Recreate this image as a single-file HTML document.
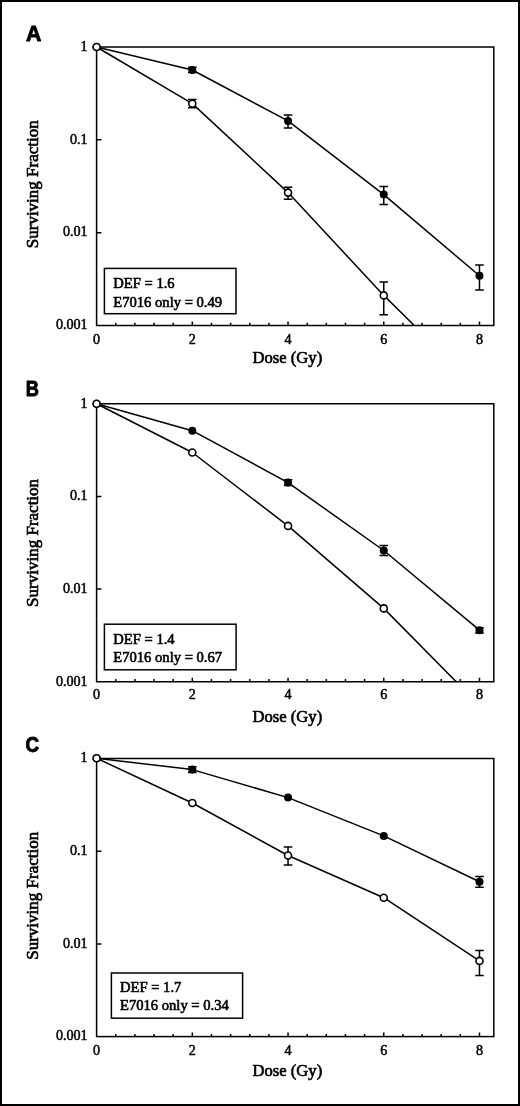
<!DOCTYPE html><html><head><meta charset="utf-8"><style>
html,body{margin:0;padding:0;background:#fff;}
body{width:520px;height:1106px;overflow:hidden;}
svg{display:block;will-change:transform;}
text{font-family:"Liberation Serif",serif;fill:#000;}
.lab{stroke:#000;stroke-width:0.65px;}
.pl{font-family:"Liberation Sans",sans-serif;font-weight:bold;stroke:#000;stroke-width:0.9px;stroke-linejoin:round;}
.tk{stroke:#000;stroke-width:0.6px;}
.tl{stroke:#000;stroke-width:0.5px;}
</style></head><body>
<svg width="520" height="1106" viewBox="0 0 520 1106">
<rect x="0" y="0" width="520" height="1106" fill="#fff"/>
<rect x="1" y="1" width="518" height="1104" fill="none" stroke="#000" stroke-width="2"/>
<g>
<text class="pl" transform="translate(26 41) scale(1.0 1)" x="0" y="0" font-size="21.2">A</text>
<rect x="96.6" y="47" width="397.2" height="278.5" fill="none" stroke="#000" stroke-width="1.5"/>
<path d="M96.6 139.83H101.4M96.6 232.67H101.4M115.74 325.5V322.8M134.89 325.5V322.8M154.03 325.5V322.8M173.18 325.5V322.8M192.32 325.5V321.5M211.46 325.5V322.8M230.61 325.5V322.8M249.75 325.5V322.8M268.9 325.5V322.8M288.04 325.5V321.5M307.18 325.5V322.8M326.33 325.5V322.8M345.47 325.5V322.8M364.62 325.5V322.8M383.76 325.5V321.5M402.9 325.5V322.8M422.05 325.5V322.8M441.19 325.5V322.8M460.34 325.5V322.8M479.48 325.5V321.5" stroke="#000" stroke-width="1.5" fill="none"/>
<text x="87.6" y="50.8" font-size="14.1" class="tl" text-anchor="end">1</text>
<text x="87.6" y="143.63" font-size="14.1" class="tl" text-anchor="end">0.1</text>
<text x="87.6" y="236.47" font-size="14.1" class="tl" text-anchor="end">0.01</text>
<text x="87.6" y="329.3" font-size="14.1" class="tl" text-anchor="end">0.001</text>
<text x="96.6" y="343.8" font-size="14.1" class="tl" text-anchor="middle">0</text>
<text x="192.32" y="343.8" font-size="14.1" class="tl" text-anchor="middle">2</text>
<text x="288.04" y="343.8" font-size="14.1" class="tl" text-anchor="middle">4</text>
<text x="383.76" y="343.8" font-size="14.1" class="tl" text-anchor="middle">6</text>
<text x="479.48" y="343.8" font-size="14.1" class="tl" text-anchor="middle">8</text>
<text x="287.4" y="363.4" font-size="16.6" class="lab" text-anchor="middle">Dose (Gy)</text>
<text transform="translate(38.2 184.25) rotate(-90)" x="0" y="0" font-size="17.0" class="lab" text-anchor="middle">Surviving Fraction</text>
<clipPath id="cpA"><rect x="96.6" y="41" width="403.2" height="284.5"/></clipPath>
<polyline points="96.6,47 192.32,70 288.04,120.9 383.76,194.6 479.48,275.8" fill="none" stroke="#000" stroke-width="1.5" stroke-linejoin="round"/>
<polyline points="96.6,47 192.32,103.65 288.04,192.6 383.76,295.4 413.8,325" fill="none" stroke="#000" stroke-width="1.5" stroke-linejoin="round" clip-path="url(#cpA)"/>
<path d="M192.32 67.3V72.6M188.02 67.3H196.62M188.02 72.6H196.62M288.04 114.9V128M283.74 114.9H292.34M283.74 128H292.34M383.76 186.6V204.4M379.46 186.6H388.06M379.46 204.4H388.06M479.48 265.1V289.9M475.18 265.1H483.78M475.18 289.9H483.78M192.32 99.5V107.7M188.02 99.5H196.62M188.02 107.7H196.62M288.04 187.3V199.2M283.74 187.3H292.34M283.74 199.2H292.34M383.76 282.1V314.8M379.46 282.1H388.06M379.46 314.8H388.06" stroke="#000" stroke-width="1.5" fill="none"/>
<circle cx="96.6" cy="47" r="4.0" fill="#000"/>
<circle cx="192.32" cy="70" r="4.0" fill="#000"/>
<circle cx="288.04" cy="120.9" r="4.0" fill="#000"/>
<circle cx="383.76" cy="194.6" r="4.0" fill="#000"/>
<circle cx="479.48" cy="275.8" r="4.0" fill="#000"/>
<circle cx="96.6" cy="47" r="3.5" fill="#fff" stroke="#000" stroke-width="1.6"/>
<circle cx="192.32" cy="103.65" r="3.5" fill="#fff" stroke="#000" stroke-width="1.6"/>
<circle cx="288.04" cy="192.6" r="3.5" fill="#fff" stroke="#000" stroke-width="1.6"/>
<circle cx="383.76" cy="295.4" r="3.5" fill="#fff" stroke="#000" stroke-width="1.6"/>
<rect x="104.4" y="268.4" width="131.6" height="45.3" fill="#fff" stroke="#000" stroke-width="1.5"/>
<text x="113.3" y="288" font-size="14.6" class="tk">DEF = 1.6</text>
<text x="113.3" y="306.6" font-size="14.6" class="tk">E7016 only = 0.49</text>
</g>
<g>
<text class="pl" transform="translate(25.7 396.2) scale(0.86 1)" x="0" y="0" font-size="21.2">B</text>
<rect x="96.6" y="403.75" width="397.2" height="278" fill="none" stroke="#000" stroke-width="1.5"/>
<path d="M96.6 496.42H101.4M96.6 589.08H101.4M115.74 681.75V679.05M134.89 681.75V679.05M154.03 681.75V679.05M173.18 681.75V679.05M192.32 681.75V677.75M211.46 681.75V679.05M230.61 681.75V679.05M249.75 681.75V679.05M268.9 681.75V679.05M288.04 681.75V677.75M307.18 681.75V679.05M326.33 681.75V679.05M345.47 681.75V679.05M364.62 681.75V679.05M383.76 681.75V677.75M402.9 681.75V679.05M422.05 681.75V679.05M441.19 681.75V679.05M460.34 681.75V679.05M479.48 681.75V677.75" stroke="#000" stroke-width="1.5" fill="none"/>
<text x="87.6" y="407.55" font-size="14.1" class="tl" text-anchor="end">1</text>
<text x="87.6" y="500.22" font-size="14.1" class="tl" text-anchor="end">0.1</text>
<text x="87.6" y="592.88" font-size="14.1" class="tl" text-anchor="end">0.01</text>
<text x="87.6" y="685.55" font-size="14.1" class="tl" text-anchor="end">0.001</text>
<text x="96.6" y="699.45" font-size="14.1" class="tl" text-anchor="middle">0</text>
<text x="192.32" y="699.45" font-size="14.1" class="tl" text-anchor="middle">2</text>
<text x="288.04" y="699.45" font-size="14.1" class="tl" text-anchor="middle">4</text>
<text x="383.76" y="699.45" font-size="14.1" class="tl" text-anchor="middle">6</text>
<text x="479.48" y="699.45" font-size="14.1" class="tl" text-anchor="middle">8</text>
<text x="287.4" y="721.65" font-size="16.6" class="lab" text-anchor="middle">Dose (Gy)</text>
<text transform="translate(38.2 542.9) rotate(-90)" x="0" y="0" font-size="17.0" class="lab" text-anchor="middle">Surviving Fraction</text>
<clipPath id="cpB"><rect x="96.6" y="397.75" width="403.2" height="284"/></clipPath>
<polyline points="96.6,403.75 192.32,430.7 288.04,482.6 383.76,550.5 479.48,630.2" fill="none" stroke="#000" stroke-width="1.5" stroke-linejoin="round"/>
<polyline points="96.6,403.75 192.32,452.5 288.04,525.9 383.76,608.4 456.2,681.75" fill="none" stroke="#000" stroke-width="1.5" stroke-linejoin="round" clip-path="url(#cpB)"/>
<path d="M288.04 479.7V485.5M283.74 479.7H292.34M283.74 485.5H292.34M383.76 545.6V555.5M379.46 545.6H388.06M379.46 555.5H388.06M479.48 627.7V632.9M475.18 627.7H483.78M475.18 632.9H483.78" stroke="#000" stroke-width="1.5" fill="none"/>
<circle cx="96.6" cy="403.75" r="4.0" fill="#000"/>
<circle cx="192.32" cy="430.7" r="4.0" fill="#000"/>
<circle cx="288.04" cy="482.6" r="4.0" fill="#000"/>
<circle cx="383.76" cy="550.5" r="4.0" fill="#000"/>
<circle cx="479.48" cy="630.2" r="4.0" fill="#000"/>
<circle cx="96.6" cy="403.75" r="3.5" fill="#fff" stroke="#000" stroke-width="1.6"/>
<circle cx="192.32" cy="452.5" r="3.5" fill="#fff" stroke="#000" stroke-width="1.6"/>
<circle cx="288.04" cy="525.9" r="3.5" fill="#fff" stroke="#000" stroke-width="1.6"/>
<circle cx="383.76" cy="608.4" r="3.5" fill="#fff" stroke="#000" stroke-width="1.6"/>
<rect x="104.4" y="624.2" width="131.7" height="45.6" fill="#fff" stroke="#000" stroke-width="1.5"/>
<text x="113.3" y="643.9" font-size="14.6" class="tk">DEF = 1.4</text>
<text x="113.3" y="662.3" font-size="14.6" class="tk">E7016 only = 0.67</text>
</g>
<g>
<text class="pl" transform="translate(25.4 752) scale(0.89 1)" x="0" y="0" font-size="21.2">C</text>
<rect x="96.6" y="758.5" width="397.2" height="278.1" fill="none" stroke="#000" stroke-width="1.5"/>
<path d="M96.6 851.2H101.4M96.6 943.9H101.4M115.74 1036.6V1033.9M134.89 1036.6V1033.9M154.03 1036.6V1033.9M173.18 1036.6V1033.9M192.32 1036.6V1032.6M211.46 1036.6V1033.9M230.61 1036.6V1033.9M249.75 1036.6V1033.9M268.9 1036.6V1033.9M288.04 1036.6V1032.6M307.18 1036.6V1033.9M326.33 1036.6V1033.9M345.47 1036.6V1033.9M364.62 1036.6V1033.9M383.76 1036.6V1032.6M402.9 1036.6V1033.9M422.05 1036.6V1033.9M441.19 1036.6V1033.9M460.34 1036.6V1033.9M479.48 1036.6V1032.6" stroke="#000" stroke-width="1.5" fill="none"/>
<text x="87.6" y="762.3" font-size="14.1" class="tl" text-anchor="end">1</text>
<text x="87.6" y="855" font-size="14.1" class="tl" text-anchor="end">0.1</text>
<text x="87.6" y="947.7" font-size="14.1" class="tl" text-anchor="end">0.01</text>
<text x="87.6" y="1040.4" font-size="14.1" class="tl" text-anchor="end">0.001</text>
<text x="96.6" y="1054.6" font-size="14.1" class="tl" text-anchor="middle">0</text>
<text x="192.32" y="1054.6" font-size="14.1" class="tl" text-anchor="middle">2</text>
<text x="288.04" y="1054.6" font-size="14.1" class="tl" text-anchor="middle">4</text>
<text x="383.76" y="1054.6" font-size="14.1" class="tl" text-anchor="middle">6</text>
<text x="479.48" y="1054.6" font-size="14.1" class="tl" text-anchor="middle">8</text>
<text x="287.4" y="1076.3" font-size="16.6" class="lab" text-anchor="middle">Dose (Gy)</text>
<text transform="translate(38.2 895.8) rotate(-90)" x="0" y="0" font-size="17.0" class="lab" text-anchor="middle">Surviving Fraction</text>
<clipPath id="cpC"><rect x="96.6" y="752.5" width="403.2" height="284.1"/></clipPath>
<polyline points="96.6,758.25 192.32,769.6 288.04,797.6 383.76,835.9 479.48,881.8" fill="none" stroke="#000" stroke-width="1.5" stroke-linejoin="round"/>
<polyline points="96.6,758.25 192.32,803 288.04,855.5 383.76,897.7 479.48,960.9" fill="none" stroke="#000" stroke-width="1.5" stroke-linejoin="round" clip-path="url(#cpC)"/>
<path d="M192.32 766.7V772.5M188.02 766.7H196.62M188.02 772.5H196.62M479.48 876.4V887.2M475.18 876.4H483.78M475.18 887.2H483.78M288.04 847V865.1M283.74 847H292.34M283.74 865.1H292.34M479.48 950.6V975.6M475.18 950.6H483.78M475.18 975.6H483.78" stroke="#000" stroke-width="1.5" fill="none"/>
<circle cx="96.6" cy="758.25" r="4.0" fill="#000"/>
<circle cx="192.32" cy="769.6" r="4.0" fill="#000"/>
<circle cx="288.04" cy="797.6" r="4.0" fill="#000"/>
<circle cx="383.76" cy="835.9" r="4.0" fill="#000"/>
<circle cx="479.48" cy="881.8" r="4.0" fill="#000"/>
<circle cx="96.6" cy="758.25" r="3.5" fill="#fff" stroke="#000" stroke-width="1.6"/>
<circle cx="192.32" cy="803" r="3.5" fill="#fff" stroke="#000" stroke-width="1.6"/>
<circle cx="288.04" cy="855.5" r="3.5" fill="#fff" stroke="#000" stroke-width="1.6"/>
<circle cx="383.76" cy="897.7" r="3.5" fill="#fff" stroke="#000" stroke-width="1.6"/>
<circle cx="479.48" cy="960.9" r="3.5" fill="#fff" stroke="#000" stroke-width="1.6"/>
<rect x="111.4" y="973" width="131.2" height="45.2" fill="#fff" stroke="#000" stroke-width="1.5"/>
<text x="120" y="991.8" font-size="14.6" class="tk">DEF = 1.7</text>
<text x="120" y="1010.3" font-size="14.6" class="tk">E7016 only = 0.34</text>
</g>
</svg></body></html>
